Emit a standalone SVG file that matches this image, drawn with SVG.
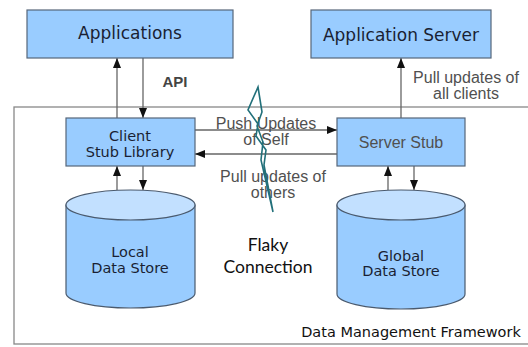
<svg xmlns="http://www.w3.org/2000/svg" width="528" height="347" viewBox="0 0 528 347">
<defs>
<marker id="ah" viewBox="0 0 10 8" refX="10" refY="4" markerWidth="10" markerHeight="8" markerUnits="userSpaceOnUse" orient="auto">
<path d="M0,0 L10,4 L0,8 Z" fill="#111"/>
</marker>
<style>
.box{fill:#99ccff;stroke:#56667a;stroke-width:1.2}
.cyl{fill:#99ccff;stroke:#4a5a6e;stroke-width:1.2}
.cyltop{fill:#c2e0ff;stroke:#4a5a6e;stroke-width:1.2}
.dv{font-family:"DejaVu Sans",sans-serif;fill:#1a1f33;text-anchor:middle}
.ls{font-family:"Liberation Sans",Arial,sans-serif;fill:#505050;text-anchor:middle;font-size:16px}
.cn{stroke:#666;stroke-width:1.3;fill:none;marker-end:url(#ah)}
.fl{font-family:Lato,sans-serif;font-size:17.5px;fill:#111;text-anchor:middle}
</style>
</defs>
<rect x="14" y="107" width="530" height="237" fill="none" stroke="#888" stroke-width="1.3"/>
<g id="connectors">
<line class="cn" x1="117" y1="118" x2="117" y2="58"/>
<line class="cn" x1="143" y1="58" x2="143" y2="118"/>
<line class="cn" x1="401" y1="118" x2="401" y2="58"/>
<line class="cn" x1="195" y1="130" x2="337" y2="130"/>
<line class="cn" x1="337" y1="154" x2="195" y2="154"/>
<line class="cn" x1="117" y1="190" x2="117" y2="166"/>
<line class="cn" x1="143" y1="166" x2="143" y2="190"/>
<line class="cn" x1="388" y1="190" x2="388" y2="166"/>
<line class="cn" x1="414" y1="166" x2="414" y2="190"/>
<text x="175" y="87" font-family="Liberation Sans, Arial, sans-serif" font-weight="bold" font-size="15" fill="#444" text-anchor="middle">API</text>
<text class="ls" x="466" y="83">Pull updates of</text>
<text class="ls" x="466" y="99">all clients</text>
<text class="ls" x="266" y="129">Push Updates</text>
<text class="ls" x="266" y="145">of Self</text>
<text class="ls" x="273" y="182">Pull updates of</text>
<text class="ls" x="273" y="198">others</text>
</g>
<g id="flaky">
<polygon points="258,87 262,112 257,126 263,142 261,160 273,212 264,165 266,150 256,136 258,124 248,110" fill="none" stroke="#22707a" stroke-width="1.6"/>
<text class="fl" x="268" y="251">Flaky</text>
<text class="fl" x="268" y="273">Connection</text>
</g>
<g id="applications">
<rect class="box" x="27" y="10" width="206" height="48"/>
<text class="dv" x="130" y="39" font-size="17">Applications</text>
</g>
<g id="app-server">
<rect class="box" x="311" y="10" width="180" height="48"/>
<text class="dv" x="401" y="41" font-size="17">Application Server</text>
</g>
<g id="client-stub">
<rect class="box" x="66" y="118" width="129" height="48"/>
<text class="dv" x="130" y="141" font-size="14.5">Client</text>
<text class="dv" x="130" y="157" font-size="14.5">Stub Library</text>
</g>
<g id="server-stub">
<rect class="box" x="337" y="118" width="128" height="48"/>
<text class="ls" x="401" y="148">Server Stub</text>
</g>
<g id="local-store">
<path class="cyl" d="M66,205 L66,293 A64.5,15 0 0 0 195,293 L195,205 Z"/>
<ellipse class="cyltop" cx="130.5" cy="205" rx="64.5" ry="15"/>
<text class="dv" x="130" y="257" font-size="14.5">Local</text>
<text class="dv" x="130" y="273" font-size="14.5">Data Store</text>
</g>
<g id="global-store">
<path class="cyl" d="M337,205 L337,294 A64,15 0 0 0 465,294 L465,205 Z"/>
<ellipse class="cyltop" cx="401" cy="205" rx="64" ry="15"/>
<text class="dv" x="401" y="261" font-size="14.5">Global</text>
<text class="dv" x="401" y="276" font-size="14.5">Data Store</text>
</g>
<g id="framework-label">
<text x="411" y="337" font-family="DejaVu Sans, sans-serif" font-size="14.5" fill="#111" text-anchor="middle">Data Management Framework</text>
</g>
</svg>
